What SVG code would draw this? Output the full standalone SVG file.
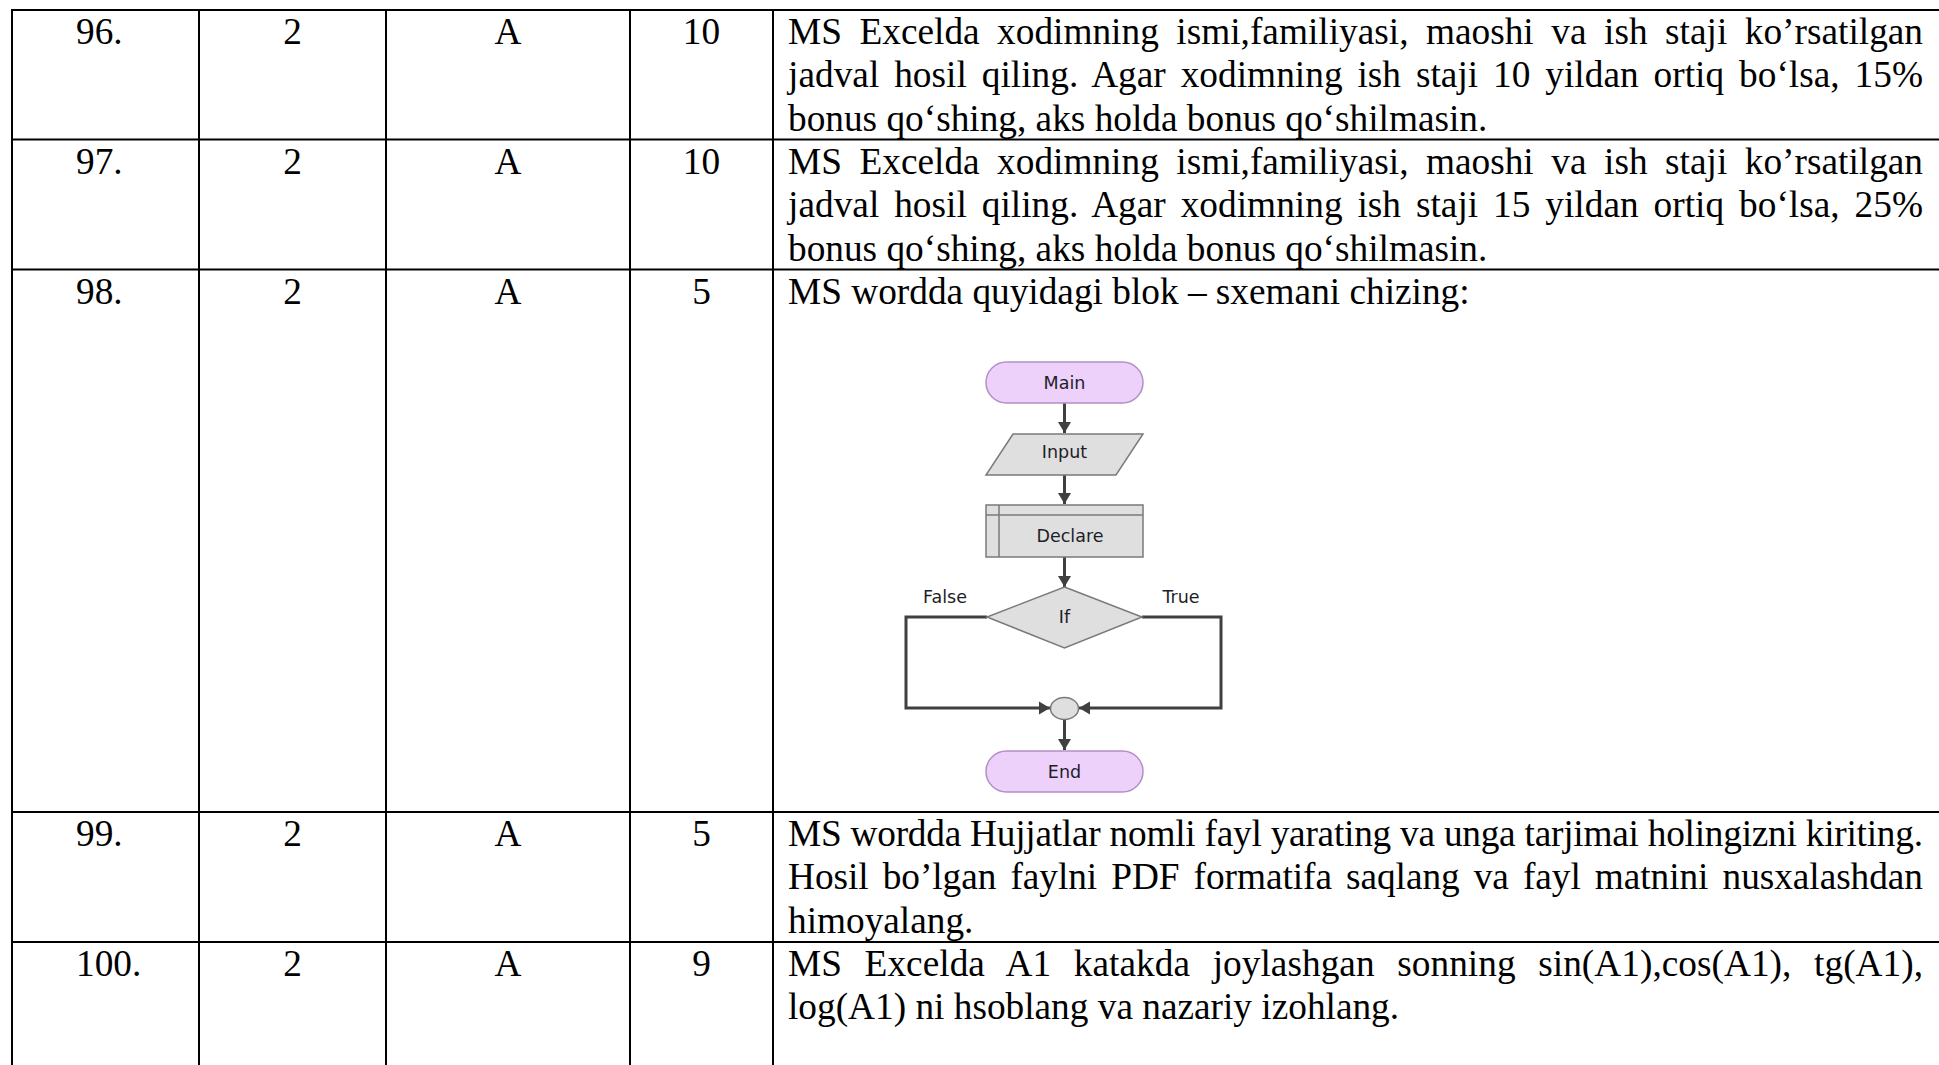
<svg xmlns="http://www.w3.org/2000/svg" width="1939" height="1065" viewBox="0 0 1939 1065">
<style>
.t{font-family:"Liberation Serif","Times New Roman",serif;font-size:37.3px;fill:#000}
.c{text-anchor:middle}
.g{stroke:#000;stroke-width:2;fill:none}
.f{font-family:"DejaVu Sans","Liberation Sans",sans-serif;font-size:17.5px;fill:#1e1e28;text-anchor:middle}
.term{fill:#edd1fb;stroke:#b38fc7;stroke-width:1.5}
.box{fill:#dfdfdf;stroke:#7a7a7a;stroke-width:1.5}
.con{fill:none;stroke:#404040;stroke-width:3}
</style>
<defs>
<marker id="ah" markerUnits="userSpaceOnUse" markerWidth="14" markerHeight="14" refX="11" refY="7" orient="auto">
<path d="M0,0.5 L11,7 L0,13.5 z" fill="#404040"/>
</marker>
</defs>
<rect width="1939" height="1065" fill="#fff"/>
<g id="grid" class="g">
<line x1="11" y1="10" x2="1939" y2="10"/>
<line x1="11" y1="139.5" x2="1939" y2="139.5"/>
<line x1="11" y1="269.5" x2="1939" y2="269.5"/>
<line x1="11" y1="812" x2="1939" y2="812"/>
<line x1="11" y1="942" x2="1939" y2="942"/>
<line x1="12" y1="9" x2="12" y2="1065"/>
<line x1="199" y1="9" x2="199" y2="1065"/>
<line x1="386" y1="9" x2="386" y2="1065"/>
<line x1="630" y1="9" x2="630" y2="1065"/>
<line x1="773" y1="9" x2="773" y2="1065"/>
</g>
<g id="row96" class="t">
<text x="76" y="44">96.</text>
<text class="c" x="292.5" y="44">2</text>
<text class="c" x="508" y="44">A</text>
<text class="c" x="701.5" y="44">10</text>
<text x="788" y="44" style="word-spacing:8.2px" textLength="1135" lengthAdjust="spacing">MS Excelda xodimning ismi,familiyasi, maoshi va ish staji ko’rsatilgan</text>
<text x="788" y="87.3" style="word-spacing:5.5px" textLength="1135" lengthAdjust="spacing">jadval hosil qiling. Agar xodimning ish staji 10 yildan ortiq bo‘lsa, 15%</text>
<text x="788" y="130.6">bonus qo‘shing, aks holda bonus qo‘shilmasin.</text>
</g>
<g id="row97" class="t">
<text x="76" y="174">97.</text>
<text class="c" x="292.5" y="174">2</text>
<text class="c" x="508" y="174">A</text>
<text class="c" x="701.5" y="174">10</text>
<text x="788" y="174" style="word-spacing:8.2px" textLength="1135" lengthAdjust="spacing">MS Excelda xodimning ismi,familiyasi, maoshi va ish staji ko’rsatilgan</text>
<text x="788" y="217.3" style="word-spacing:5.5px" textLength="1135" lengthAdjust="spacing">jadval hosil qiling. Agar xodimning ish staji 15 yildan ortiq bo‘lsa, 25%</text>
<text x="788" y="260.6">bonus qo‘shing, aks holda bonus qo‘shilmasin.</text>
</g>
<g id="row98" class="t">
<text x="76" y="304">98.</text>
<text class="c" x="292.5" y="304">2</text>
<text class="c" x="508" y="304">A</text>
<text class="c" x="701.5" y="304">5</text>
<text x="788" y="304">MS wordda quyidagi blok – sxemani chizing:</text>
</g>
<g id="row99" class="t">
<text x="76" y="846">99.</text>
<text class="c" x="292.5" y="846">2</text>
<text class="c" x="508" y="846">A</text>
<text class="c" x="701.5" y="846">5</text>
<text x="788" y="846" textLength="1135" lengthAdjust="spacing">MS wordda Hujjatlar nomli fayl yarating va unga tarjimai holingizni kiriting.</text>
<text x="788" y="889.3" style="word-spacing:4.8px" textLength="1135" lengthAdjust="spacing">Hosil bo’lgan faylni PDF formatifa saqlang va fayl matnini nusxalashdan</text>
<text x="788" y="932.6">himoyalang.</text>
</g>
<g id="row100" class="t">
<text x="76" y="976">100.</text>
<text class="c" x="292.5" y="976">2</text>
<text class="c" x="508" y="976">A</text>
<text class="c" x="701.5" y="976">9</text>
<text x="788" y="976" style="word-spacing:13.3px" textLength="1135" lengthAdjust="spacing">MS Excelda A1 katakda joylashgan sonning sin(A1),cos(A1), tg(A1),</text>
<text x="788" y="1019.3">log(A1) ni hsoblang va nazariy izohlang.</text>
</g>
<g id="connectors">
<line class="con" x1="1064.5" y1="403" x2="1064.5" y2="433" marker-end="url(#ah)"/>
<line class="con" x1="1064.5" y1="475" x2="1064.5" y2="504" marker-end="url(#ah)"/>
<line class="con" x1="1064.5" y1="557" x2="1064.5" y2="587" marker-end="url(#ah)"/>
<polyline class="con" points="987,617 906,617 906,708 1050,708" marker-end="url(#ah)"/>
<polyline class="con" points="1142,617 1221,617 1221,708 1079,708" marker-end="url(#ah)"/>
<line class="con" x1="1064.5" y1="719" x2="1064.5" y2="750" marker-end="url(#ah)"/>
</g>
<g id="main">
<rect class="term" x="986" y="362" width="157" height="41" rx="20.5"/>
<text class="f" x="1064.5" y="389">Main</text>
</g>
<g id="input">
<polygon class="box" points="1013,434 1143,434 1116,475 986,475"/>
<text class="f" x="1064.5" y="458">Input</text>
</g>
<g id="declare">
<rect class="box" x="986" y="505" width="157" height="52"/>
<line x1="986" y1="515" x2="1143" y2="515" stroke="#7a7a7a" stroke-width="1.5"/>
<line x1="999" y1="505" x2="999" y2="557" stroke="#7a7a7a" stroke-width="1.5"/>
<text class="f" x="1070" y="542">Declare</text>
</g>
<g id="if">
<polygon class="box" points="1064.5,587 1142,617 1064.5,648 987,617"/>
<text class="f" x="1064.5" y="623">If</text>
<text class="f" x="945" y="603">False</text>
<text class="f" x="1181" y="603">True</text>
</g>
<g id="merge">
<ellipse class="box" cx="1064.5" cy="708.5" rx="14" ry="11"/>
</g>
<g id="end">
<rect class="term" x="986" y="751" width="157" height="41" rx="20.5"/>
<text class="f" x="1064.5" y="778">End</text>
</g>
</svg>
